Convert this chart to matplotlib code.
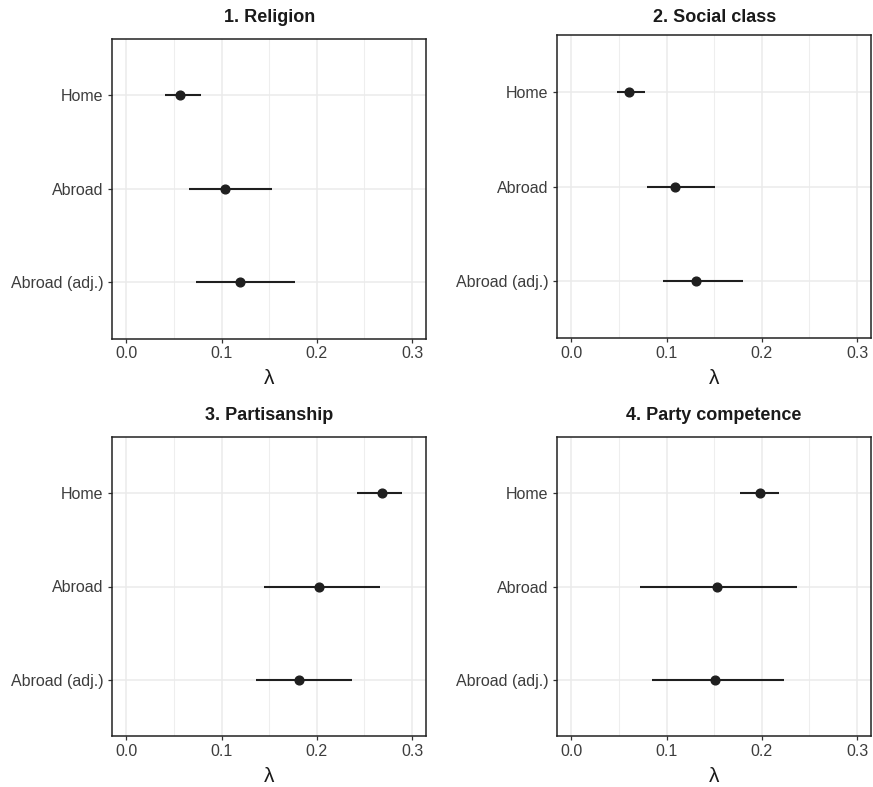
import matplotlib
matplotlib.use('Agg')
import matplotlib.pyplot as plt
from matplotlib.ticker import MultipleLocator

plt.rcParams['font.family'] = ['Liberation Sans', 'DejaVu Sans']

groups = ['Home', 'Abroad', 'Abroad (adj.)']
titles = ['1. Religion', '2. Social class', '3. Partisanship', '4. Party competence']

# point estimate, lower and upper bound of lambda, per panel (Home, Abroad, Abroad adj.)
est = [
    [0.0565, 0.104, 0.119],
    [0.060, 0.1085, 0.1305],
    [0.2687, 0.2022, 0.1813],
    [0.1977, 0.1529, 0.1511],
]
lower = [
    [0.041, 0.0653, 0.0726],
    [0.048, 0.0794, 0.0966],
    [0.2424, 0.1445, 0.1365],
    [0.1774, 0.0717, 0.0847],
]
upper = [
    [0.0785, 0.153, 0.1766],
    [0.077, 0.151, 0.180],
    [0.290, 0.266, 0.237],
    [0.2176, 0.2365, 0.2236],
]

W, H = 873, 787
fig = plt.figure(figsize=(W / 100, H / 100), dpi=100)

# panel boxes in pixels: left, top, right, bottom
boxes = [
    (112.3, 39.3, 426, 338.5),
    (557.3, 35.3, 871, 338.3),
    (112.3, 436.8, 426, 736.2),
    (557.3, 437.0, 871, 736.2),
]
title_base = [22.5, 22.5, 419.5, 419.5]
xlab_y = [379, 379, 777, 777]

ink = '#1f1f1f'
for i, (l, t, r, b) in enumerate(boxes):
    ax = fig.add_axes([l / W, 1 - b / H, (r - l) / W, (b - t) / H])
    ypos = list(range(len(groups)))
    ax.hlines(ypos, lower[i], upper[i], color=ink, lw=1.5, zorder=3)
    ax.plot(est[i], ypos, 'o', color=ink, ms=6.3, zorder=4)

    ax.set_xlim(-0.0148, 0.3147)
    ax.set_ylim(2.6, -0.6)
    ax.set_yticks(ypos)
    ax.set_yticklabels(groups)
    ax.xaxis.set_major_locator(MultipleLocator(0.1))
    ax.xaxis.set_minor_locator(MultipleLocator(0.05))
    ax.xaxis.set_major_formatter(matplotlib.ticker.FormatStrFormatter('%.1f'))

    ax.grid(True, which='major', color='#EBEBEB', lw=1.1, zorder=0)
    ax.grid(True, which='minor', axis='x', color='#EEEEEE', lw=0.8, zorder=0)
    ax.set_axisbelow(True)
    ax.tick_params(axis='both', which='major', length=3.2, width=0.9,
                   color='#333333', labelsize=11.5, labelcolor='#3d3d3d')
    ax.tick_params(axis='x', pad=2.5)
    ax.tick_params(axis='y', pad=3.3)
    ax.tick_params(which='minor', length=0)
    for s in ax.spines.values():
        s.set_color('#222222')
        s.set_linewidth(1.1)

    cx = (l + r) / 2 / W
    fig.text(cx, 1 - title_base[i] / H, titles[i], ha='center', va='baseline',
             fontsize=13, fontweight='bold', color='#1a1a1a')
    fig.text(cx, 1 - xlab_y[i] / H, 'λ', ha='center', va='center',
             fontsize=15, color='#1a1a1a')

fig.savefig('out.png', dpi=100)
